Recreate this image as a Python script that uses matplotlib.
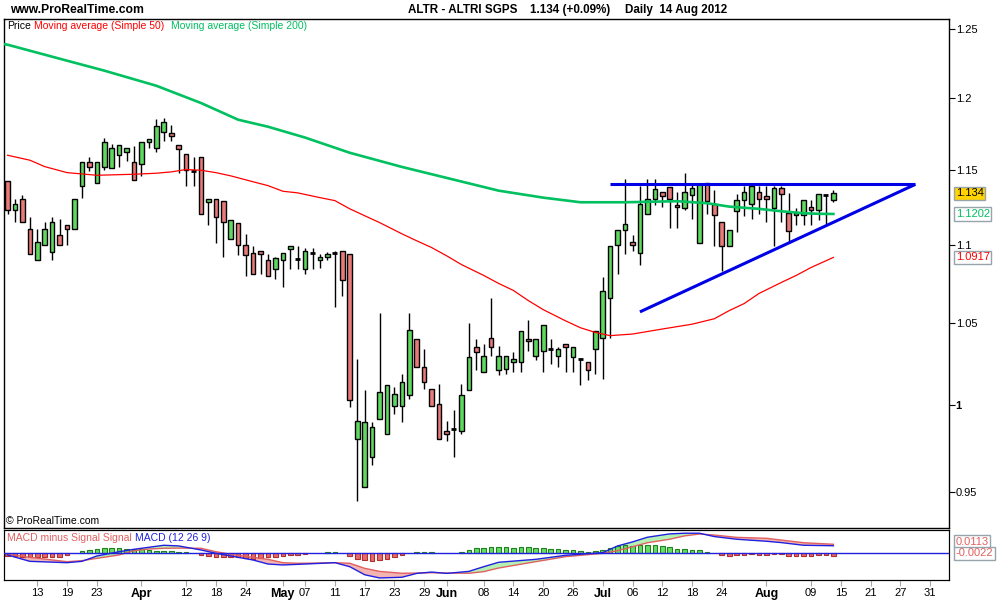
import matplotlib
matplotlib.use("Agg")
import matplotlib.pyplot as plt
import numpy as np

plt.rcParams['font.family'] = ['Liberation Sans', 'DejaVu Sans']

# daily candles, trading day index 0 = 7 Mar 2012 ... 111 = 14 Aug 2012
opens = [1.142, 1.123, 1.130, 1.110, 1.090, 1.100, 1.095, 1.106, 1.113, 1.110,
         1.139, 1.155, 1.141, 1.152, 1.151, 1.160, 1.162, 1.155, 1.154, 1.169,
         1.165, 1.176, 1.175, 1.167, 1.161, 1.149, 1.159, 1.128, 1.130, 1.129,
         1.104, 1.114, 1.100, 1.0945, 1.096, 1.090, 1.084, 1.090, 1.097, 1.0906,
         1.084, 1.0945, 1.090, 1.092, 1.0945, 1.096, 1.094, 0.980, 0.9525, 0.970,
         0.992, 0.983, 0.9995, 0.9995, 1.006, 1.040, 1.023, 1.010, 1.001, 0.985,
         0.986, 0.985, 1.009, 1.035, 1.020, 1.041, 1.021, 1.022, 1.026, 1.026,
         1.040, 1.030, 1.033, 1.034, 1.030, 1.037, 1.029, 1.028, 1.026, 1.034,
         1.041, 1.066, 1.0996, 1.1096, 1.102, 1.0945, 1.120, 1.130, 1.135, 1.138,
         1.1265, 1.124, 1.133, 1.101, 1.1407, 1.127, 1.115, 1.099, 1.122, 1.1296,
         1.127, 1.135, 1.132, 1.1243, 1.1376, 1.1207, 1.1196, 1.1196, 1.1247, 1.1229,
         1.133, 1.1296]
highs = [1.142, 1.130, 1.133, 1.118, 1.110, 1.115, 1.118, 1.117, 1.113, 1.130,
         1.155, 1.159, 1.155, 1.172, 1.168, 1.167, 1.165, 1.166, 1.169, 1.171,
         1.185, 1.186, 1.181, 1.167, 1.161, 1.159, 1.159, 1.130, 1.130, 1.129,
         1.116, 1.114, 1.107, 1.099, 1.096, 1.094, 1.092, 1.0945, 1.099, 1.099,
         1.098, 1.098, 1.094, 1.095, 1.096, 1.096, 1.094, 1.028, 1.009, 0.990,
         1.056, 1.012, 1.011, 1.019, 1.056, 1.040, 1.034, 1.010, 1.013, 0.991,
         0.997, 1.013, 1.050, 1.040, 1.037, 1.066, 1.036, 1.030, 1.032, 1.045,
         1.052, 1.040, 1.049, 1.040, 1.035, 1.037, 1.035, 1.028, 1.026, 1.045,
         1.079, 1.099, 1.1096, 1.144, 1.106, 1.139, 1.144, 1.144, 1.135, 1.138,
         1.135, 1.1475, 1.140, 1.1405, 1.1407, 1.136, 1.115, 1.1096, 1.1336, 1.139,
         1.139, 1.139, 1.139, 1.139, 1.139, 1.134, 1.124, 1.1296, 1.1296, 1.1336,
         1.133, 1.136]
lows = [1.120, 1.115, 1.115, 1.094, 1.090, 1.100, 1.090, 1.100, 1.100, 1.110,
        1.131, 1.149, 1.141, 1.150, 1.151, 1.152, 1.156, 1.143, 1.146, 1.165,
        1.162, 1.170, 1.170, 1.148, 1.139, 1.139, 1.120, 1.113, 1.101, 1.092,
        1.104, 1.093, 1.080, 1.081, 1.081, 1.080, 1.078, 1.073, 1.084, 1.084,
        1.081, 1.084, 1.085, 1.090, 1.060, 1.067, 0.999, 0.945, 0.9525, 0.965,
        0.992, 0.983, 0.995, 0.990, 1.004, 1.023, 1.010, 0.9995, 0.980, 0.979,
        0.970, 0.983, 1.009, 1.021, 1.020, 1.030, 1.018, 1.019, 1.020, 1.020,
        1.033, 1.027, 1.020, 1.025, 1.023, 1.020, 1.020, 1.012, 1.015, 1.019,
        1.016, 1.041, 1.081, 1.094, 1.096, 1.087, 1.120, 1.126, 1.125, 1.111,
        1.111, 1.123, 1.117, 1.101, 1.120, 1.099, 1.083, 1.099, 1.108, 1.119,
        1.117, 1.120, 1.115, 1.099, 1.1147, 1.1013, 1.113, 1.113, 1.113, 1.1163,
        1.113, 1.128]
closes = [1.123, 1.127, 1.115, 1.094, 1.102, 1.110, 1.115, 1.100, 1.110, 1.130,
          1.155, 1.152, 1.155, 1.169, 1.165, 1.167, 1.165, 1.143, 1.169, 1.171,
          1.180, 1.183, 1.173, 1.164, 1.150, 1.149, 1.120, 1.130, 1.118, 1.115,
          1.116, 1.100, 1.093, 1.081, 1.094, 1.080, 1.091, 1.0945, 1.099, 1.0906,
          1.096, 1.0945, 1.092, 1.094, 1.0945, 1.077, 1.003, 0.991, 0.990, 0.987,
          1.008, 1.012, 1.007, 1.014, 1.046, 1.023, 1.014, 0.9995, 0.980, 0.983,
          0.986, 1.006, 1.029, 1.032, 1.030, 1.035, 1.030, 1.030, 1.028, 1.045,
          1.039, 1.040, 1.049, 1.034, 1.034, 1.035, 1.035, 1.028, 1.021, 1.045,
          1.070, 1.099, 1.1096, 1.1136, 1.0996, 1.127, 1.130, 1.137, 1.132, 1.130,
          1.125, 1.1347, 1.1376, 1.1403, 1.129, 1.1196, 1.099, 1.1096, 1.1296, 1.1347,
          1.139, 1.130, 1.130, 1.1376, 1.1336, 1.1087, 1.1207, 1.1296, 1.1229, 1.1336,
          1.133, 1.134]

# moving averages at sample days
ma50_idx = [0, 3, 5, 8, 12, 17, 20, 22, 24, 26, 28, 30, 33, 35, 37, 39, 42, 44, 46,
            50, 53, 55, 57, 59, 61, 64, 66, 68, 70, 72, 75, 77, 79, 81, 84, 88, 92,
            95, 97, 99, 101, 104, 106, 108, 111]
ma50_val = [1.1599, 1.1565, 1.1521, 1.148, 1.1462, 1.1469, 1.1476, 1.1485, 1.1501,
            1.1496, 1.148, 1.1458, 1.1418, 1.1392, 1.1354, 1.1343, 1.1311, 1.1291,
            1.1236, 1.1145, 1.1071, 1.1025, 1.0981, 1.0928, 1.0871, 1.0801, 1.075,
            1.0705, 1.0641, 1.0584, 1.0514, 1.0471, 1.0442, 1.0422, 1.0432, 1.0463,
            1.0493, 1.0527, 1.0578, 1.0622, 1.0686, 1.0756, 1.0801, 1.0852, 1.0917]
ma200_idx = [-1, 0, 8, 13, 20, 26, 31, 35, 40, 46, 53, 60, 66, 72, 77, 83, 90, 94,
             97, 101, 104, 107, 109, 111]
ma200_val = [1.2393, 1.2385, 1.2268, 1.2196, 1.2087, 1.1964, 1.1846, 1.1797, 1.1721,
             1.1616, 1.1519, 1.1432, 1.1358, 1.1311, 1.128, 1.128, 1.1287, 1.1274,
             1.1251, 1.1236, 1.122, 1.1207, 1.1203, 1.1202]

# triangle trend lines (day index, price)
res_x = [81, 122]
res_y = [1.140, 1.140]
sup_x = [85, 122]
sup_y = [1.057, 1.140]

# MACD (12 26 9)
macd_idx = [0, 3, 8, 10, 12, 15, 17, 19, 21, 23, 26, 28, 30, 33, 35, 37, 39, 42, 44,
            46, 48, 50, 53, 55, 57, 59, 62, 64, 66, 71, 75, 80, 82, 84, 86, 89, 91,
            93, 95, 98, 102, 104, 107, 111]
macd_val = [-0.0025, -0.012, -0.014, -0.012, -0.004, 0.0024, 0.006, 0.009, 0.012,
            0.011, 0.005, 0.0, -0.004, -0.010, -0.016, -0.0174, -0.0165, -0.015,
            -0.014, -0.020, -0.032, -0.0368, -0.0358, -0.030, -0.028, -0.030, -0.027,
            -0.020, -0.0134, -0.009, -0.003, 0.001, 0.011, 0.017, 0.024, 0.029, 0.030,
            0.030, 0.025, 0.021, 0.018, 0.016, 0.012, 0.0113]
signal_val = [-0.0015, -0.006, -0.0125, -0.011, -0.0075, -0.0025, 0.0039, 0.0064,
              0.0075, 0.0078, 0.0075, 0.0024, -0.0015, -0.006, -0.009, -0.014,
              -0.0149, -0.0145, -0.014, -0.0149, -0.0224, -0.027, -0.0298, -0.0295,
              -0.029, -0.0295, -0.0298, -0.0274, -0.022, -0.0125, -0.005, 0.0, 0.0039,
              0.0098, 0.0158, 0.021, 0.026, 0.0288, 0.0273, 0.0238, 0.0224, 0.0198,
              0.0158, 0.0135]
hist_val = [-0.0022, -0.0022, -0.0026, -0.0026, -0.0032, -0.0032, -0.0026, -0.0026, -0.0016, 0.0,
            0.0022, 0.0026, 0.0038, 0.0042, 0.0042, 0.0042, 0.0038, 0.0032, 0.0032, 0.0026,
            0.0022, 0.0022, 0.0022, 0.0014, 0.0008, 0.0, -0.0016, -0.0022, -0.0026, -0.0026,
            -0.0026, -0.0032, -0.0038, -0.0042, -0.0038, -0.0032, -0.0026, -0.0022, -0.0016, -0.001,
            -0.0006, 0.0, 0.0, 0.001, 0.001, 0.0, -0.0022, -0.0042, -0.0054, -0.0064,
            -0.0054, -0.0042, -0.0032, -0.0016, 0.0, 0.001, 0.001, 0.001, 0.0, 0.0,
            0.0, 0.001, 0.0026, 0.0042, 0.0042, 0.0048, 0.0048, 0.0048, 0.004, 0.0048,
            0.0048, 0.004, 0.004, 0.0032, 0.0032, 0.0024, 0.0024, 0.0016, 0.0008, 0.0016,
            0.0024, 0.004, 0.0056, 0.0064, 0.0056, 0.0064, 0.0064, 0.0064, 0.0056, 0.0048,
            0.0032, 0.0032, 0.0024, 0.0024, 0.0008, 0.0, -0.0016, -0.0024, -0.0016, -0.0016,
            -0.0008, -0.0016, -0.0016, -0.0008, -0.0008, -0.0024, -0.0024, -0.0024, -0.0024, -0.0016,
            -0.0016, -0.0022]

tick_idx = [4, 8, 12, 18, 24, 28, 32, 37, 40, 44, 48, 52, 56, 59, 64, 68, 72, 76, 80,
            84, 88, 92, 96, 102, 108, 112, 116, 120, 124]
tick_lab = ['13', '19', '23', 'Apr', '12', '18', '24', 'May', '07', '11', '17', '23',
            '29', 'Jun', '08', '14', '20', '26', 'Jul', '06', '12', '18', '24', 'Aug',
            '09', '15', '21', '27', '31']
month_labels = ['Apr', 'May', 'Jun', 'Jul', 'Aug']
yticks = [0.95, 1.0, 1.05, 1.1, 1.15, 1.2, 1.25]
ytick_lab = ['0.95', '1', '1.05', '1.1', '1.15', '1.2', '1.25']

GREEN = '#5fd85f'
RED = '#e87a7a'
MA50_C = '#ff0000'
MA200_C = '#00c060'
BLUE = '#0000e6'

fig = plt.figure(figsize=(10, 6), dpi=100)
fig.patch.set_facecolor('white')

def fx(x):
    return x / 1000.0

def fy(y):
    return 1 - y / 600.0

ax = fig.add_axes([0.004, 0.1205, 0.9447, 0.8478])
ax2 = fig.add_axes([0.004, 0.0333, 0.9447, 0.0828])

xlo, xhi = -0.476, 126.5

# candles
o = np.array(opens); h = np.array(highs); l = np.array(lows); c = np.array(closes)
idx = np.arange(len(o))
ax.vlines(idx, l, h, color='black', lw=1.0, zorder=2)
up = c > o
dn = c < o
flat = c == o
ax.bar(idx[up], (c - o)[up], bottom=o[up], width=0.62, color=GREEN,
       edgecolor='black', linewidth=1.0, zorder=3)
ax.bar(idx[dn], (o - c)[dn], bottom=c[dn], width=0.62, color=RED,
       edgecolor='black', linewidth=1.0, zorder=3)
ax.hlines(c[flat], idx[flat] - 0.33, idx[flat] + 0.33, color='black', lw=2, zorder=3)

ax.plot(ma50_idx, ma50_val, color=MA50_C, lw=0.9, zorder=4)
ax.plot(ma200_idx, ma200_val, color=MA200_C, lw=1.9, zorder=4)
ax.plot(res_x, res_y, color=BLUE, lw=2.2, zorder=5, solid_capstyle='butt')
ax.plot(sup_x, sup_y, color=BLUE, lw=2.2, zorder=5, solid_capstyle='butt')

ax.set_yscale('log')
ax.set_ylim(0.930, 1.2575)
ax.set_xlim(xlo, xhi)
ax.yaxis.tick_right()
ax.set_yticks(yticks)
ax.set_yticklabels(ytick_lab)
ax.minorticks_off()
ax.tick_params(axis='y', direction='out', length=4, width=0.8, pad=1, labelsize=8)
for t in ax.get_yticklabels():
    if t.get_text() == '1':
        t.set_fontweight('bold')
ax.set_xticks([])
for s in ax.spines.values():
    s.set_linewidth(1.0)

# value boxes at right
def value_box(axis, yv, txt, fc, tc, dy=0):
    axis.annotate(txt, xy=(1.0, yv), xycoords=('axes fraction', 'data'),
                  xytext=(5, dy), textcoords='offset points', va='center', ha='left',
                  fontsize=8, color=tc, annotation_clip=False,
                  bbox=dict(boxstyle='square,pad=0.15', fc=fc, ec='#98a4ac', lw=1.0))

value_box(ax, closes[-1], '1.134', '#ffd400', 'black')
value_box(ax, ma200_val[-1], '1.1202', 'white', MA200_C)
value_box(ax, ma50_val[-1], '1.0917', 'white', MA50_C)

# MACD panel
ax3 = ax2.twinx()
hv = np.array(hist_val)
hi = np.arange(len(hv))
pos = hv > 0
neg = hv < 0
ax3.bar(hi[pos], hv[pos], width=0.62, color='#66dd66', edgecolor='#208020', linewidth=0.8, zorder=2)
ax3.bar(hi[neg], hv[neg], width=0.62, color='#e86a6a', edgecolor='#b03030', linewidth=0.8, zorder=2)
ax3.set_ylim(-0.0214, 0.0184)
ax3.set_yticks([])
ax3.set_xlim(xlo, xhi)

mi = np.array(macd_idx, dtype=float)
mv = np.array(macd_val)
sv = np.array(signal_val)
ax2.fill_between(mi, mv, sv, where=mv >= sv, interpolate=True, color='#b4f0b4', lw=0, zorder=1)
ax2.fill_between(mi, mv, sv, where=mv < sv, interpolate=True, color='#f4b4b4', lw=0, zorder=1)
ax2.set_ylim(-0.0398, 0.0343)
ax2.set_xlim(xlo, xhi)
ax2.set_yticks([])
ax3.plot(mi, sv * 0.0184 / 0.0343, color='#e06060', lw=1.0, zorder=3)
ax3.plot(mi, mv * 0.0184 / 0.0343, color='#2020e0', lw=1.0, zorder=4)
ax3.axhline(0, color='#2020e0', lw=1.0, zorder=4)
ax2.set_xticks(tick_idx)
ax2.set_xticklabels(tick_lab)
ax2.tick_params(axis='x', direction='out', length=4, color='#a0a8b0', labelsize=8, pad=2)
for t in ax2.get_xticklabels():
    if t.get_text() in month_labels:
        t.set_fontweight('bold')
        t.set_fontsize(9)

ax2.annotate('0.0113', xy=(1.0, macd_val[-1]), xycoords=('axes fraction', 'data'),
             xytext=(5, 3), textcoords='offset points', va='center', ha='left',
             fontsize=8, color='#e06060', annotation_clip=False,
             bbox=dict(boxstyle='square,pad=0.15', fc='white', ec='#98a4ac', lw=1.0))
ax3.annotate('-0.0022', xy=(1.0, 0), xycoords=('axes fraction', 'data'),
             xytext=(5, 0), textcoords='offset points', va='center', ha='left',
             fontsize=8, color='#e06060', annotation_clip=False,
             bbox=dict(boxstyle='square,pad=0.15', fc='white', ec='#98a4ac', lw=1.0))

# header and legend texts
fig.text(fx(10), fy(10), 'www.ProRealTime.com', fontsize=8.7, fontweight='bold', va='center')
fig.text(fx(408), fy(10), 'ALTR - ALTRI SGPS', fontsize=8.4, fontweight='bold', va='center')
fig.text(fx(530), fy(10), '1.134 (+0.09%)', fontsize=8.4, fontweight='bold', va='center')
fig.text(fx(625), fy(10), 'Daily  14 Aug 2012', fontsize=8.4, fontweight='bold', va='center')
fig.text(fx(7), fy(26), 'Price', fontsize=7.5, color='black', va='center')
fig.text(fx(34), fy(26), 'Moving average (Simple 50)', fontsize=7.5, color=MA50_C, va='center')
fig.text(fx(171), fy(26), 'Moving average (Simple 200)', fontsize=7.5, color=MA200_C, va='center')
fig.text(fx(6), fy(521), '\u00a9 ProRealTime.com', fontsize=7.5, color='black', va='center')
fig.text(fx(7), fy(538), 'MACD minus Signal Signal', fontsize=7.5, color='#e06060', va='center')
fig.text(fx(135), fy(538), 'MACD (12 26 9)', fontsize=7.5, color='#2020e0', va='center')

fig.savefig('out.png', dpi=100)
